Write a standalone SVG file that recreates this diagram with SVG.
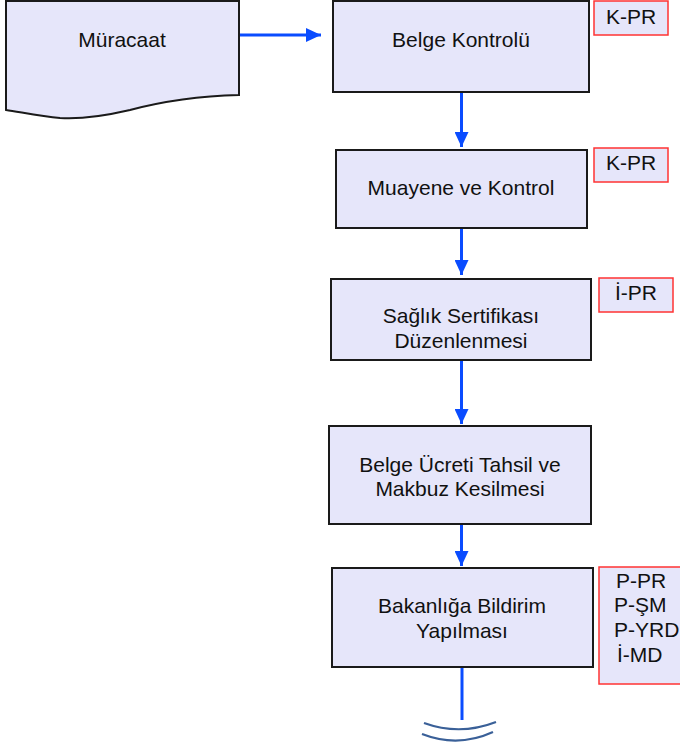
<svg xmlns="http://www.w3.org/2000/svg" width="680" height="747" viewBox="0 0 680 747">
<style>
.box{fill:#E6E6FA;stroke:#1a1a1a;stroke-width:2}
.ref{fill:#E6E6FA;stroke:#ff3333;stroke-width:1.5}
.t{font-family:"Liberation Sans",Arial,sans-serif;font-size:21px;fill:#111;text-anchor:middle}
.rt{font-family:"Liberation Sans",Arial,sans-serif;font-size:21px;fill:#111}
.c{stroke:#0a4cff;stroke-width:3;fill:none}
</style>
<defs>
<marker id="ah" markerWidth="15" markerHeight="14" refX="15" refY="7" orient="auto" markerUnits="userSpaceOnUse">
<path d="M0,0 L15,7 L0,14 Z" fill="#0a4cff"/>
</marker>
</defs>
<g id="connectors">
<line class="c" x1="239" y1="35" x2="321" y2="35" marker-end="url(#ah)"/>
<line class="c" x1="461.5" y1="92" x2="461.5" y2="147" marker-end="url(#ah)"/>
<line class="c" x1="461.5" y1="228" x2="461.5" y2="275" marker-end="url(#ah)"/>
<line class="c" x1="461.5" y1="360" x2="461.5" y2="424" marker-end="url(#ah)"/>
<line class="c" x1="461.5" y1="524" x2="461.5" y2="566" marker-end="url(#ah)"/>
<line class="c" x1="462" y1="667" x2="462" y2="720"/>
<path d="M424,723 Q460,736 496,722" fill="none" stroke="#3a6098" stroke-width="2.2"/>
<path d="M422,734 Q458,748 493,732" fill="none" stroke="#3a6098" stroke-width="2.2"/>
</g>
<g id="muracaat">
<path class="box" d="M6,1 L239,1 L239,95 C200,96 160,102 130,110 C100,117 75,119 60,118 C40,116 20,112 6,110 Z"/>
<text class="t" x="122" y="47">Müracaat</text>
</g>
<g id="belge-kontrolu">
<rect class="box" x="333" y="1" width="256" height="91"/>
<text class="t" x="461" y="47">Belge Kontrolü</text>
</g>
<g id="ref1">
<rect class="ref" x="594" y="1" width="74" height="34"/>
<text class="t" x="631" y="24">K-PR</text>
</g>
<g id="muayene">
<rect class="box" x="336" y="150" width="251" height="78"/>
<text class="t" x="461" y="195">Muayene ve Kontrol</text>
</g>
<g id="ref2">
<rect class="ref" x="594" y="148" width="74" height="34"/>
<text class="t" x="631" y="170">K-PR</text>
</g>
<g id="saglik">
<rect class="box" x="331" y="279" width="260" height="81"/>
<text class="t" x="461" y="323">Sağlık Sertifikası</text>
<text class="t" x="461" y="348">Düzenlenmesi</text>
</g>
<g id="ref3">
<rect class="ref" x="599" y="278" width="74" height="34"/>
<text class="t" x="636" y="300">İ-PR</text>
</g>
<g id="ucret">
<rect class="box" x="329" y="426" width="262" height="98"/>
<text class="t" x="460" y="472">Belge Ücreti Tahsil ve</text>
<text class="t" x="460" y="496">Makbuz Kesilmesi</text>
</g>
<g id="bakanlik">
<rect class="box" x="332" y="568" width="261" height="99"/>
<text class="t" x="462" y="613">Bakanlığa Bildirim</text>
<text class="t" x="462" y="638">Yapılması</text>
</g>
<g id="ref4">
<rect class="ref" x="599" y="567" width="90" height="117"/>
<text class="rt" x="616" y="588">P-PR</text>
<text class="rt" x="614" y="612">P-ŞM</text>
<text class="rt" x="614" y="637">P-YRD</text>
<text class="rt" x="617" y="662">İ-MD</text>
</g>
</svg>
